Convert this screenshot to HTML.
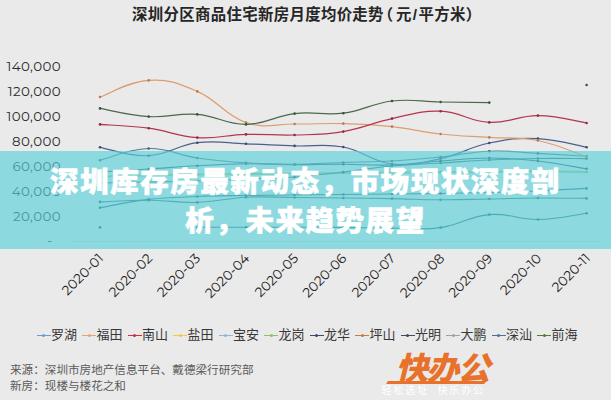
<!DOCTYPE html>
<html><head><meta charset="utf-8">
<style>
*{margin:0;padding:0;box-sizing:border-box}
html,body{width:611px;height:400px;overflow:hidden;background:#eaeaea}
body{position:relative;font-family:"Liberation Sans","Noto Sans CJK SC",sans-serif}
.title{position:absolute;left:132px;top:5px;white-space:nowrap;font:700 15.4px/20px "Liberation Sans","Noto Sans CJK SC",sans-serif;color:#262626;letter-spacing:0.35px}
.yl{position:absolute;left:0;width:61px;text-align:right;font:400 13.4px/16px "Montserrat","Liberation Sans",sans-serif;color:#2c2c2c;letter-spacing:0.4px}
.xl{position:absolute;top:250px;width:120px;height:16px;text-align:right;font:400 13.4px/16px "Montserrat","Liberation Sans",sans-serif;color:#222;transform-origin:100% 0;transform:rotate(-45deg)}
svg{position:absolute;left:0;top:0}
.banner{position:absolute;left:0;top:151px;width:611px;height:98px;background:rgba(89,208,217,0.65)}
.btxt{position:absolute;left:38px;top:163.3px;width:535px;text-align:center;color:#fff;font:900 28.5px/38.3px "Liberation Sans","Noto Sans CJK SC",sans-serif;letter-spacing:1.55px;-webkit-text-stroke:0.6px #fff}
.lg{position:absolute;top:326px;height:18px;font:400 13px/18px "Liberation Sans","Noto Sans CJK SC",sans-serif;color:#383838;padding-left:14.5px;white-space:nowrap}
.lg i{position:absolute;left:0;top:8.5px;width:14px;height:1.2px}
.lg b{position:absolute;left:5.5px;top:7.6px;width:3px;height:3px;border-radius:50%}
.foot{position:absolute;left:10px;top:361.5px;font:400 11.6px/16.5px "Liberation Sans","Noto Sans CJK SC",sans-serif;color:#5a5a5a}
.logo{position:absolute;left:394px;top:346px;font:900 32px/40px "Noto Sans CJK SC",sans-serif;color:#e8712b;transform:skewX(-14deg) scaleX(1.02);transform-origin:0 100%;letter-spacing:-1.5px;white-space:nowrap}
.lbar{position:absolute;left:387px;top:380.5px;width:98px;height:3px;background:#e8712b;transform:skewX(-30deg)}
.logosub{position:absolute;left:381.5px;top:384px;font:400 10px/12px "Noto Sans CJK SC",sans-serif;color:#fff;letter-spacing:1.9px;white-space:nowrap}
</style></head><body>
<div class="title">深圳分区商品住宅新房月度均价走势<span style="margin-left:-6px;margin-right:2.5px">（</span>元<span style="padding:0 1px">/</span>平方米）</div>
<div class="yl" style="top:57.5px">140,000</div><div class="yl" style="top:82.6px">120,000</div><div class="yl" style="top:107.8px">100,000</div><div class="yl" style="top:132.9px">80,000</div><div class="yl" style="top:158.1px">60,000</div><div class="yl" style="top:183.2px">40,000</div><div class="yl" style="top:208.3px">20,000</div><div class="yl" style="top:233.5px;padding-right:8.5px;margin-top:-1.5px">-</div>
<svg width="611" height="400" viewBox="0 0 611 400">
<line x1="72" y1="241.5" x2="600" y2="241.5" stroke="#d6d6d6" stroke-width="1"/>
<path d="M197.3 227.2C207.5 227.2 225.5 227.2 246.0 227.2C266.4 227.2 274.2 227.2 294.6 227.2C315.1 227.2 322.9 227.2 343.3 227.4C363.7 227.6 371.5 228.0 392.0 228.0C412.4 228.0 420.2 230.4 440.6 227.6C461.1 224.8 468.8 216.3 489.3 214.6C509.7 212.9 517.5 219.8 537.9 219.5C558.4 219.2 576.4 214.5 586.6 213.2" stroke="#2f7474" stroke-width="1.1" fill="none"/><circle cx="100.0" cy="227.4" r="1.3" fill="#255c5c"/><circle cx="197.3" cy="227.2" r="1.3" fill="#255c5c"/><circle cx="246.0" cy="227.2" r="1.3" fill="#255c5c"/><circle cx="294.6" cy="227.2" r="1.3" fill="#255c5c"/><circle cx="343.3" cy="227.4" r="1.3" fill="#255c5c"/><circle cx="392.0" cy="228.0" r="1.3" fill="#255c5c"/><circle cx="440.6" cy="227.6" r="1.3" fill="#255c5c"/><circle cx="489.3" cy="214.6" r="1.3" fill="#255c5c"/><circle cx="537.9" cy="219.5" r="1.3" fill="#255c5c"/><circle cx="586.6" cy="213.2" r="1.3" fill="#255c5c"/><path d="M100.0 201.9C110.2 201.5 128.2 200.1 148.7 200.2C169.1 200.3 176.9 203.0 197.3 202.4C217.8 201.8 225.5 198.2 246.0 197.2C266.4 196.2 274.2 197.3 294.6 197.5C315.1 197.7 322.9 197.8 343.3 198.0C363.7 198.2 371.5 198.2 392.0 198.6C412.4 199.0 420.2 199.7 440.6 199.8C461.1 199.9 468.8 199.4 489.3 199.0C509.7 198.6 517.5 198.1 537.9 198.0C558.4 197.9 576.4 198.3 586.6 198.4" stroke="#3f786e" stroke-width="1.1" fill="none"/><circle cx="100.0" cy="201.9" r="1.3" fill="#326058"/><circle cx="148.7" cy="200.2" r="1.3" fill="#326058"/><circle cx="197.3" cy="202.4" r="1.3" fill="#326058"/><circle cx="246.0" cy="197.2" r="1.3" fill="#326058"/><circle cx="294.6" cy="197.5" r="1.3" fill="#326058"/><circle cx="343.3" cy="198.0" r="1.3" fill="#326058"/><circle cx="392.0" cy="198.6" r="1.3" fill="#326058"/><circle cx="440.6" cy="199.8" r="1.3" fill="#326058"/><circle cx="489.3" cy="199.0" r="1.3" fill="#326058"/><circle cx="537.9" cy="198.0" r="1.3" fill="#326058"/><circle cx="586.6" cy="198.4" r="1.3" fill="#326058"/><path d="M100.0 207.8C110.2 206.0 128.2 201.8 148.7 199.4C169.1 197.0 176.9 197.3 197.3 196.5C217.8 195.7 225.5 195.8 246.0 195.5C266.4 195.2 274.2 195.2 294.6 195.0C315.1 194.8 322.9 194.7 343.3 194.5C363.7 194.3 371.5 194.2 392.0 194.0C412.4 193.8 420.2 193.8 440.6 193.5C461.1 193.2 468.8 193.0 489.3 192.5C509.7 192.0 517.5 191.9 537.9 191.0C558.4 190.1 576.4 188.9 586.6 188.4" stroke="#3a6e7e" stroke-width="1.1" fill="none"/><circle cx="100.0" cy="207.8" r="1.3" fill="#2e5864"/><circle cx="148.7" cy="199.4" r="1.3" fill="#2e5864"/><circle cx="197.3" cy="196.5" r="1.3" fill="#2e5864"/><circle cx="246.0" cy="195.5" r="1.3" fill="#2e5864"/><circle cx="294.6" cy="195.0" r="1.3" fill="#2e5864"/><circle cx="343.3" cy="194.5" r="1.3" fill="#2e5864"/><circle cx="392.0" cy="194.0" r="1.3" fill="#2e5864"/><circle cx="440.6" cy="193.5" r="1.3" fill="#2e5864"/><circle cx="489.3" cy="192.5" r="1.3" fill="#2e5864"/><circle cx="537.9" cy="191.0" r="1.3" fill="#2e5864"/><circle cx="586.6" cy="188.4" r="1.3" fill="#2e5864"/><path d="M100.0 176.5C110.2 176.3 128.2 175.9 148.7 175.5C169.1 175.1 176.9 174.8 197.3 174.5C217.8 174.2 225.5 174.2 246.0 174.0C266.4 173.8 274.2 173.7 294.6 173.5C315.1 173.3 322.9 173.2 343.3 173.0C363.7 172.8 371.5 172.7 392.0 172.5C412.4 172.3 420.2 172.3 440.6 172.2C461.1 172.1 468.8 172.0 489.3 171.8C509.7 171.6 517.5 171.4 537.9 171.4C558.4 171.4 576.4 171.9 586.6 172.0" stroke="#a0cc90" stroke-width="2.2" fill="none"/><circle cx="100.0" cy="176.5" r="1.3" fill="#80a373"/><circle cx="148.7" cy="175.5" r="1.3" fill="#80a373"/><circle cx="197.3" cy="174.5" r="1.3" fill="#80a373"/><circle cx="246.0" cy="174.0" r="1.3" fill="#80a373"/><circle cx="294.6" cy="173.5" r="1.3" fill="#80a373"/><circle cx="343.3" cy="173.0" r="1.3" fill="#80a373"/><circle cx="392.0" cy="172.5" r="1.3" fill="#80a373"/><circle cx="440.6" cy="172.2" r="1.3" fill="#80a373"/><circle cx="489.3" cy="171.8" r="1.3" fill="#80a373"/><circle cx="537.9" cy="171.4" r="1.3" fill="#80a373"/><circle cx="586.6" cy="172.0" r="1.3" fill="#80a373"/><path d="M100.0 172.0C110.2 171.4 128.2 170.3 148.7 169.0C169.1 167.7 176.9 166.9 197.3 165.8C217.8 164.7 225.5 164.1 246.0 163.8C266.4 163.5 274.2 164.5 294.6 164.6C315.1 164.7 322.9 164.1 343.3 164.2C363.7 164.3 371.5 165.7 392.0 165.0C412.4 164.3 420.2 162.5 440.6 161.0C461.1 159.5 468.8 158.0 489.3 158.0C509.7 158.0 517.5 158.7 537.9 161.0C558.4 163.3 576.4 167.2 586.6 168.8" stroke="#345f70" stroke-width="1.1" fill="none"/><circle cx="100.0" cy="172.0" r="1.3" fill="#294c59"/><circle cx="148.7" cy="169.0" r="1.3" fill="#294c59"/><circle cx="197.3" cy="165.8" r="1.3" fill="#294c59"/><circle cx="246.0" cy="163.8" r="1.3" fill="#294c59"/><circle cx="294.6" cy="164.6" r="1.3" fill="#294c59"/><circle cx="343.3" cy="164.2" r="1.3" fill="#294c59"/><circle cx="392.0" cy="165.0" r="1.3" fill="#294c59"/><circle cx="440.6" cy="161.0" r="1.3" fill="#294c59"/><circle cx="489.3" cy="158.0" r="1.3" fill="#294c59"/><circle cx="537.9" cy="161.0" r="1.3" fill="#294c59"/><circle cx="586.6" cy="168.8" r="1.3" fill="#294c59"/><path d="M100.0 160.2C110.2 157.7 128.2 149.0 148.7 148.5C169.1 148.0 176.9 155.0 197.3 158.0C217.8 161.0 225.5 161.6 246.0 162.9C266.4 164.2 274.2 164.3 294.6 164.2C315.1 164.1 322.9 163.2 343.3 162.5C363.7 161.8 371.5 162.2 392.0 161.0C412.4 159.8 420.2 159.1 440.6 157.0C461.1 154.9 468.8 152.0 489.3 151.2C509.7 150.4 517.5 152.3 537.9 153.4C558.4 154.5 576.4 155.6 586.6 156.2" stroke="#56768e" stroke-width="1.1" fill="none"/><circle cx="100.0" cy="160.2" r="1.3" fill="#445e71"/><circle cx="148.7" cy="148.5" r="1.3" fill="#445e71"/><circle cx="197.3" cy="158.0" r="1.3" fill="#445e71"/><circle cx="246.0" cy="162.9" r="1.3" fill="#445e71"/><circle cx="294.6" cy="164.2" r="1.3" fill="#445e71"/><circle cx="343.3" cy="162.5" r="1.3" fill="#445e71"/><circle cx="392.0" cy="161.0" r="1.3" fill="#445e71"/><circle cx="440.6" cy="157.0" r="1.3" fill="#445e71"/><circle cx="489.3" cy="151.2" r="1.3" fill="#445e71"/><circle cx="537.9" cy="153.4" r="1.3" fill="#445e71"/><circle cx="586.6" cy="156.2" r="1.3" fill="#445e71"/><path d="M100.0 183.0C110.2 182.8 128.2 182.4 148.7 182.0C169.1 181.6 176.9 181.6 197.3 181.0C217.8 180.4 225.5 179.8 246.0 179.0C266.4 178.2 274.2 178.5 294.6 177.0C315.1 175.5 322.9 174.3 343.3 172.0C363.7 169.7 371.5 167.9 392.0 166.0C412.4 164.1 420.2 164.3 440.6 163.0C461.1 161.7 468.8 160.9 489.3 160.0C509.7 159.1 517.5 158.8 537.9 158.5C558.4 158.2 576.4 158.6 586.6 158.6" stroke="#3a7078" stroke-width="1.1" fill="none"/><circle cx="100.0" cy="183.0" r="1.3" fill="#2e5960"/><circle cx="148.7" cy="182.0" r="1.3" fill="#2e5960"/><circle cx="197.3" cy="181.0" r="1.3" fill="#2e5960"/><circle cx="246.0" cy="179.0" r="1.3" fill="#2e5960"/><circle cx="294.6" cy="177.0" r="1.3" fill="#2e5960"/><circle cx="343.3" cy="172.0" r="1.3" fill="#2e5960"/><circle cx="392.0" cy="166.0" r="1.3" fill="#2e5960"/><circle cx="440.6" cy="163.0" r="1.3" fill="#2e5960"/><circle cx="489.3" cy="160.0" r="1.3" fill="#2e5960"/><circle cx="537.9" cy="158.5" r="1.3" fill="#2e5960"/><circle cx="586.6" cy="158.6" r="1.3" fill="#2e5960"/><path d="M100.0 147.3C110.2 149.1 128.2 156.7 148.7 155.7C169.1 154.7 176.9 145.2 197.3 142.7C217.8 140.2 225.5 143.1 246.0 143.8C266.4 144.5 274.2 145.2 294.6 145.9C315.1 146.6 322.9 143.2 343.3 147.0C363.7 150.8 371.5 161.6 392.0 164.0C412.4 166.4 420.2 163.0 440.6 158.6C461.1 154.2 468.8 147.2 489.3 143.0C509.7 138.8 517.5 137.7 537.9 138.6C558.4 139.5 576.4 145.4 586.6 147.2" stroke="#4d5f8f" stroke-width="1.2" fill="none"/><circle cx="100.0" cy="147.3" r="1.3" fill="#3d4c72"/><circle cx="148.7" cy="155.7" r="1.3" fill="#3d4c72"/><circle cx="197.3" cy="142.7" r="1.3" fill="#3d4c72"/><circle cx="246.0" cy="143.8" r="1.3" fill="#3d4c72"/><circle cx="294.6" cy="145.9" r="1.3" fill="#3d4c72"/><circle cx="343.3" cy="147.0" r="1.3" fill="#3d4c72"/><circle cx="392.0" cy="164.0" r="1.3" fill="#3d4c72"/><circle cx="440.6" cy="158.6" r="1.3" fill="#3d4c72"/><circle cx="489.3" cy="143.0" r="1.3" fill="#3d4c72"/><circle cx="537.9" cy="138.6" r="1.3" fill="#3d4c72"/><circle cx="586.6" cy="147.2" r="1.3" fill="#3d4c72"/><path d="M100.0 97.0C110.2 93.5 128.2 81.6 148.7 80.4C169.1 79.2 176.9 82.6 197.3 91.4C217.8 100.2 225.5 115.7 246.0 122.5C266.4 129.3 274.2 123.8 294.6 124.0C315.1 124.2 322.9 123.1 343.3 123.6C363.7 124.1 371.5 124.4 392.0 126.6C412.4 128.8 420.2 131.7 440.6 134.0C461.1 136.3 468.8 136.0 489.3 137.4C509.7 138.8 517.5 136.4 537.9 140.5C558.4 144.6 576.4 153.5 586.6 157.0" stroke="#df9d6c" stroke-width="1.2" fill="none"/><circle cx="100.0" cy="97.0" r="1.3" fill="#b27d56"/><circle cx="148.7" cy="80.4" r="1.3" fill="#b27d56"/><circle cx="197.3" cy="91.4" r="1.3" fill="#b27d56"/><circle cx="246.0" cy="122.5" r="1.3" fill="#b27d56"/><circle cx="294.6" cy="124.0" r="1.3" fill="#b27d56"/><circle cx="343.3" cy="123.6" r="1.3" fill="#b27d56"/><circle cx="392.0" cy="126.6" r="1.3" fill="#b27d56"/><circle cx="440.6" cy="134.0" r="1.3" fill="#b27d56"/><circle cx="489.3" cy="137.4" r="1.3" fill="#b27d56"/><circle cx="537.9" cy="140.5" r="1.3" fill="#b27d56"/><circle cx="586.6" cy="157.0" r="1.3" fill="#b27d56"/><path d="M100.0 124.4C110.2 125.2 128.2 125.4 148.7 128.2C169.1 131.0 176.9 136.3 197.3 137.6C217.8 138.9 225.5 134.9 246.0 134.4C266.4 133.9 274.2 135.6 294.6 135.0C315.1 134.4 322.9 135.0 343.3 131.6C363.7 128.2 371.5 122.9 392.0 118.6C412.4 114.3 420.2 110.4 440.6 111.2C461.1 112.0 468.8 121.5 489.3 122.4C509.7 123.3 517.5 115.5 537.9 115.6C558.4 115.7 576.4 121.4 586.6 123.0" stroke="#b53450" stroke-width="1.2" fill="none"/><circle cx="100.0" cy="124.4" r="1.3" fill="#902940"/><circle cx="148.7" cy="128.2" r="1.3" fill="#902940"/><circle cx="197.3" cy="137.6" r="1.3" fill="#902940"/><circle cx="246.0" cy="134.4" r="1.3" fill="#902940"/><circle cx="294.6" cy="135.0" r="1.3" fill="#902940"/><circle cx="343.3" cy="131.6" r="1.3" fill="#902940"/><circle cx="392.0" cy="118.6" r="1.3" fill="#902940"/><circle cx="440.6" cy="111.2" r="1.3" fill="#902940"/><circle cx="489.3" cy="122.4" r="1.3" fill="#902940"/><circle cx="537.9" cy="115.6" r="1.3" fill="#902940"/><circle cx="586.6" cy="123.0" r="1.3" fill="#902940"/><path d="M100.0 108.4C110.2 110.1 128.2 115.3 148.7 116.6C169.1 117.9 176.9 112.8 197.3 114.4C217.8 116.0 225.5 124.6 246.0 124.4C266.4 124.2 274.2 116.0 294.6 113.6C315.1 111.2 322.9 115.8 343.3 113.2C363.7 110.6 371.5 103.4 392.0 101.0C412.4 98.6 420.2 101.7 440.6 102.0C461.1 102.3 479.1 102.5 489.3 102.6" stroke="#4b6849" stroke-width="1.2" fill="none"/><circle cx="100.0" cy="108.4" r="1.3" fill="#3c533a"/><circle cx="148.7" cy="116.6" r="1.3" fill="#3c533a"/><circle cx="197.3" cy="114.4" r="1.3" fill="#3c533a"/><circle cx="246.0" cy="124.4" r="1.3" fill="#3c533a"/><circle cx="294.6" cy="113.6" r="1.3" fill="#3c533a"/><circle cx="343.3" cy="113.2" r="1.3" fill="#3c533a"/><circle cx="392.0" cy="101.0" r="1.3" fill="#3c533a"/><circle cx="440.6" cy="102.0" r="1.3" fill="#3c533a"/><circle cx="489.3" cy="102.6" r="1.3" fill="#3c533a"/><circle cx="586.6" cy="85.0" r="1.3" fill="#3c533a"/>
</svg>
<div class="xl" style="left:-25.0px">2020-01</div><div class="xl" style="left:23.7px">2020-02</div><div class="xl" style="left:72.3px">2020-03</div><div class="xl" style="left:121.0px">2020-04</div><div class="xl" style="left:169.6px">2020-05</div><div class="xl" style="left:218.3px">2020-06</div><div class="xl" style="left:267.0px">2020-07</div><div class="xl" style="left:315.6px">2020-08</div><div class="xl" style="left:364.3px">2020-09</div><div class="xl" style="left:412.9px">2020-10</div><div class="xl" style="left:461.6px">2020-11</div>
<div class="banner"></div>
<div class="btxt">深圳库存房最新动态，市场现状深度剖析，未来趋势展望</div>
<div class="lg" style="left:36.5px"><i style="background:#6b9bd2"></i><b style="background:#6b9bd2"></b>罗湖</div><div class="lg" style="left:82.0px"><i style="background:#f0a070"></i><b style="background:#f0a070"></b>福田</div><div class="lg" style="left:127.5px"><i style="background:#cc2c44"></i><b style="background:#cc2c44"></b>南山</div><div class="lg" style="left:173.0px"><i style="background:#f5c842"></i><b style="background:#f5c842"></b>盐田</div><div class="lg" style="left:218.5px"><i style="background:#8fb4d9"></i><b style="background:#8fb4d9"></b>宝安</div><div class="lg" style="left:264.0px"><i style="background:#8ec06c"></i><b style="background:#8ec06c"></b>龙岗</div><div class="lg" style="left:309.5px"><i style="background:#3b4a6b"></i><b style="background:#3b4a6b"></b>龙华</div><div class="lg" style="left:355.0px"><i style="background:#c87a40"></i><b style="background:#c87a40"></b>坪山</div><div class="lg" style="left:400.5px"><i style="background:#3c4c5c"></i><b style="background:#3c4c5c"></b>光明</div><div class="lg" style="left:446.0px"><i style="background:#a0a0a0"></i><b style="background:#a0a0a0"></b>大鹏</div><div class="lg" style="left:491.5px"><i style="background:#4a6fa0"></i><b style="background:#4a6fa0"></b>深汕</div><div class="lg" style="left:537.0px"><i style="background:#5a7a3a"></i><b style="background:#5a7a3a"></b>前海</div>
<div class="foot">来源：深圳市房地产信息平台、戴德梁行研究部<br>新房：现楼与楼花之和</div>
<div class="lbar"></div>
<div class="logo">快办公</div>
<div class="logosub">轻松选址&nbsp;&nbsp;快乐办公</div>
</body></html>
